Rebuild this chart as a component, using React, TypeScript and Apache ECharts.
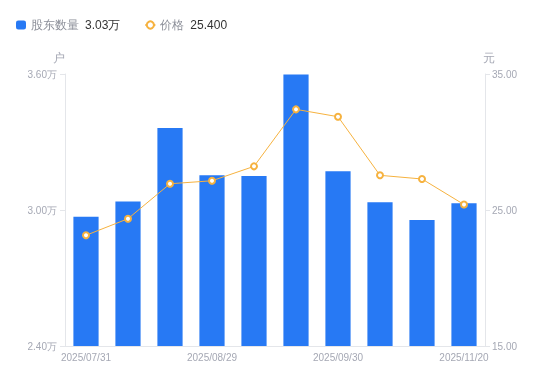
import React, { useEffect, useRef } from "react";
import * as echarts from "echarts";

const categories = [
  "2025/07/31", "2025/08/08", "2025/08/20", "2025/08/29", "2025/09/10",
  "2025/09/19", "2025/09/30", "2025/10/20", "2025/10/31", "2025/11/20",
];
const holders = [2.970, 3.037, 3.362, 3.153, 3.150, 3.598, 3.171, 3.034, 2.956, 3.03];
const prices = [23.14, 24.36, 26.93, 27.15, 28.21, 32.40, 31.86, 27.55, 27.28, 25.40];
const leftTicks = { min: 2.4, max: 3.6, interval: 0.6 };
const rightTicks = { min: 15, max: 35, interval: 10 };

const BLUE = "#2779F4";
const ORANGE = "#F6B23F";
const GRAY = "#A5A8B4";
const AXIS = "#E4E6EA";

export default function App() {
  const ref = useRef<HTMLDivElement>(null);
  useEffect(() => {
    const chart = echarts.init(ref.current!, null, { renderer: "svg" });
    const lastH = holders[holders.length - 1];
    const lastP = prices[prices.length - 1];
    chart.setOption({
      animation: false,
      legend: {
        left: 11,
        top: 14,
        itemWidth: 10,
        itemHeight: 9,
        itemGap: 24,
        data: [
          { name: "股东数量", icon: "roundRect" },
          { name: "价格" },
        ],
        formatter: (name: string) =>
          name === "股东数量"
            ? `{n|${name}}{v|${lastH.toFixed(2)}万}`
            : `{n|${name}}{v|${lastP.toFixed(3)}}`,
        textStyle: {
          rich: {
            n: { color: "#8C8F99", fontSize: 12, padding: [0, 6, 0, 0] },
            v: { color: "#333333", fontSize: 12 },
          },
        },
      },
      grid: { left: 65, right: 65, top: 74, bottom: 35 },
      xAxis: {
        type: "category",
        data: categories,
        axisLine: { lineStyle: { color: AXIS } },
        axisTick: { show: false },
        axisLabel: { color: GRAY, fontSize: 10, interval: 2, margin: 6 },
      },
      yAxis: [
        {
          type: "value",
          name: "户",
          nameTextStyle: { color: GRAY, fontSize: 12, padding: [0, 12, 0, 0] },
          nameGap: 10,
          min: leftTicks.min,
          max: leftTicks.max,
          interval: leftTicks.interval,
          axisLine: { show: true, lineStyle: { color: AXIS } },
          axisTick: { show: true, length: 5, lineStyle: { color: AXIS } },
          splitLine: { show: false },
          axisLabel: {
            color: GRAY,
            fontSize: 10,
            margin: 8,
            formatter: (v: number) => v.toFixed(2) + "万",
          },
        },
        {
          type: "value",
          name: "元",
          nameTextStyle: { color: GRAY, fontSize: 12, padding: [0, 0, 0, 8] },
          nameGap: 10,
          min: rightTicks.min,
          max: rightTicks.max,
          interval: rightTicks.interval,
          axisLine: { show: true, lineStyle: { color: AXIS } },
          axisTick: { show: true, length: 5, lineStyle: { color: AXIS } },
          splitLine: { show: false },
          axisLabel: {
            color: GRAY,
            fontSize: 10,
            margin: 7,
            formatter: (v: number) => v.toFixed(2),
          },
        },
      ],
      series: [
        {
          name: "股东数量",
          type: "bar",
          data: holders,
          barWidth: "60%",
          itemStyle: { color: BLUE },
        },
        {
          name: "价格",
          type: "line",
          yAxisIndex: 1,
          data: prices,
          symbol: "circle",
          symbolSize: 6,
          itemStyle: { color: "#fff", borderColor: ORANGE, borderWidth: 2 },
          lineStyle: { color: ORANGE, width: 1 },
        },
      ],
    });
    return () => chart.dispose();
  }, []);
  return (
    <div
      ref={ref}
      style={{ position: "fixed", left: 0, top: 0, width: 550, height: 381 }}
    />
  );
}
